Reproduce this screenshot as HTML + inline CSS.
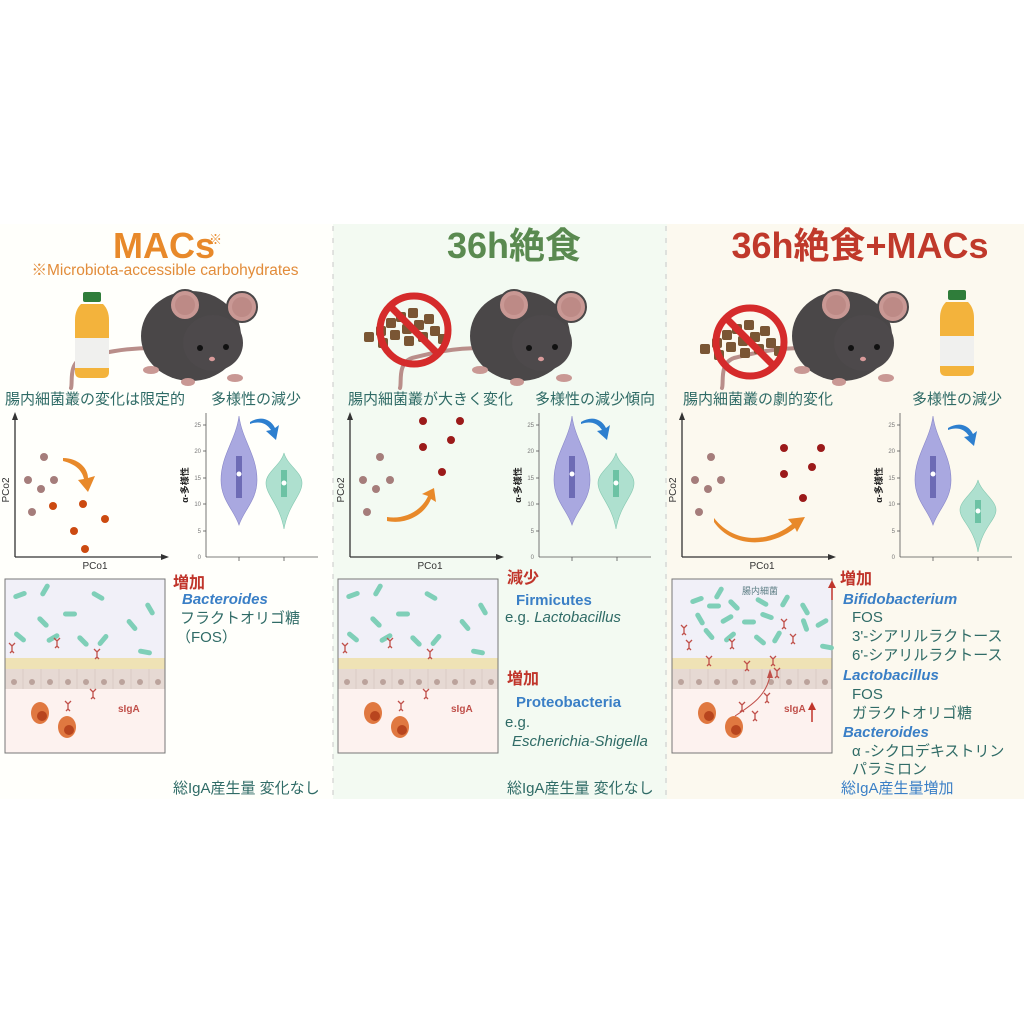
<!DOCTYPE html>
<html><head><meta charset="utf-8"><style>
html,body{margin:0;padding:0;background:#fff;}
svg{display:block}
text{font-family:"Liberation Sans","Noto Sans CJK JP",sans-serif;}
.jp{fill:#2f6b66;font-size:15px;}
.bl{fill:#3a7fc6;font-weight:bold;font-size:15px;}
.rd{fill:#c0352b;font-weight:bold;font-size:16px;}
.tk{fill:#777;font-size:6px;}
</style></head><body>
<svg width="1024" height="1024" viewBox="0 0 1024 1024" xmlns="http://www.w3.org/2000/svg">
<defs>
<g id="mouse">
  <path d="M-60,10 C-90,10 -110,15 -130,20 C-145,25 -140,45 -142,50" fill="none" stroke="#b98e8a" stroke-width="4" stroke-linecap="round"/>
  <ellipse cx="-22" cy="-2" rx="50" ry="45" fill="#4a4748"/>
  <circle cx="-28" cy="-33" r="15" fill="#c99894" stroke="#4a4748" stroke-width="2"/><circle cx="-28" cy="-33" r="10" fill="#bd8a86"/>
  <circle cx="29" cy="-31" r="15" fill="#c99894" stroke="#4a4748" stroke-width="2"/><circle cx="29" cy="-31" r="10" fill="#bd8a86"/>
  <ellipse cx="0" cy="5" rx="30" ry="28" fill="#4d494b"/>
  <circle cx="-13" cy="10" r="3" fill="#111"/><circle cx="13" cy="9" r="3" fill="#111"/>
  <ellipse cx="-1" cy="21" rx="3" ry="2.2" fill="#d99a9a"/>
  <ellipse cx="-62" cy="32" rx="8" ry="4" fill="#c99894"/>
  <ellipse cx="-25" cy="44" rx="7" ry="4" fill="#c99894"/>
  <ellipse cx="22" cy="40" rx="8" ry="4" fill="#c99894"/>
</g>
<g id="bottle">
  <rect x="8" y="0" width="18" height="10" rx="2" fill="#2f7d3a"/>
  <path d="M6,12 h22 q6,6 6,16 v52 q0,6 -6,6 h-22 q-6,0 -6,-6 v-52 q0,-10 6,-16z" fill="#f3b33c"/>
  <rect x="0" y="46" width="34" height="30" fill="#f0f0ee"/>
</g>
<g id="nofood">
  <g fill="#7a5634">
    <rect x="-50" y="2" width="10" height="10" rx="2"/><rect x="-38" y="-4" width="10" height="10" rx="2"/><rect x="-28" y="-12" width="10" height="10" rx="2"/><rect x="-18" y="-18" width="10" height="10" rx="2"/><rect x="-6" y="-22" width="10" height="10" rx="2"/><rect x="-24" y="0" width="10" height="10" rx="2"/><rect x="-12" y="-6" width="10" height="10" rx="2"/><rect x="0" y="-10" width="10" height="10" rx="2"/><rect x="10" y="-16" width="10" height="10" rx="2"/><rect x="-10" y="6" width="10" height="10" rx="2"/><rect x="4" y="2" width="10" height="10" rx="2"/><rect x="16" y="-4" width="10" height="10" rx="2"/><rect x="24" y="4" width="10" height="10" rx="2"/><rect x="-36" y="8" width="10" height="10" rx="2"/>
  </g>
  <circle cx="0" cy="0" r="34" fill="none" stroke="#d52b2b" stroke-width="7"/>
  <line x1="-24" y1="-24" x2="24" y2="24" stroke="#d52b2b" stroke-width="7"/>
</g>
<g id="axes">
  <line x1="0" y1="557" x2="0" y2="418" stroke="#333" stroke-width="1.3"/>
  <path d="M-3,420 L0,412 L3,420z" fill="#333"/>
  <line x1="0" y1="557" x2="148" y2="557" stroke="#333" stroke-width="1.3"/>
  <path d="M146,554 L154,557 L146,560z" fill="#333"/>
  <text x="80" y="569" font-size="10" fill="#333" text-anchor="middle">PCo1</text>
  <text transform="translate(-6,490) rotate(-90)" font-size="10" fill="#333" text-anchor="middle">PCo2</text>
</g>
<g id="vaxis">
  <line x1="0" y1="413" x2="0" y2="557" stroke="#555" stroke-width="0.8"/>
  <line x1="0" y1="557" x2="112" y2="557" stroke="#555" stroke-width="0.8"/>
  <g stroke="#555" stroke-width="0.8"><line x1="-3" y1="425" x2="0" y2="425"/><line x1="-3" y1="451" x2="0" y2="451"/><line x1="-3" y1="478" x2="0" y2="478"/><line x1="-3" y1="504" x2="0" y2="504"/><line x1="-3" y1="531" x2="0" y2="531"/><line x1="33" y1="557" x2="33" y2="561"/><line x1="78" y1="557" x2="78" y2="561"/></g>
  <text class="tk" x="-5" y="427" text-anchor="end">25</text><text class="tk" x="-5" y="453" text-anchor="end">20</text><text class="tk" x="-5" y="480" text-anchor="end">15</text><text class="tk" x="-5" y="506" text-anchor="end">10</text><text class="tk" x="-5" y="533" text-anchor="end">5</text><text class="tk" x="-5" y="559" text-anchor="end">0</text>
  <text transform="translate(-18,485) rotate(-90)" font-size="9" font-weight="bold" fill="#222" text-anchor="middle">α-多様性</text>
  <g transform="translate(33,0)">
    <path d="M0,416 C3,440 18,455 18,480 C18,500 5,510 0,525 C-5,510 -18,500 -18,480 C-18,455 -3,440 0,416Z" fill="#a9a8e0" stroke="#8886c8" stroke-width="0.6"/>
    <rect x="-3" y="456" width="6" height="42" fill="#6d6bb5"/>
    <circle cx="0" cy="474" r="2.5" fill="#fff"/>
  </g>
</g>
<g id="gut">
  <rect x="0" y="0" width="160" height="174" fill="#f1f0f8"/>
  <rect x="0" y="110" width="160" height="64" fill="#fdf2ef"/>
  <rect x="0" y="79" width="160" height="11" fill="#efe2b5"/>
  <rect x="0" y="90" width="160" height="20" fill="#e6d9d3"/>
  <g stroke="#d2c3bd" stroke-width="0.6">
    <line x1="18" y1="90" x2="18" y2="110"/><line x1="36" y1="90" x2="36" y2="110"/><line x1="54" y1="90" x2="54" y2="110"/><line x1="72" y1="90" x2="72" y2="110"/><line x1="90" y1="90" x2="90" y2="110"/><line x1="108" y1="90" x2="108" y2="110"/><line x1="126" y1="90" x2="126" y2="110"/><line x1="144" y1="90" x2="144" y2="110"/>
  </g>
  <g fill="#bba39c"><circle cx="9" cy="103" r="3"/><circle cx="27" cy="103" r="3"/><circle cx="45" cy="103" r="3"/><circle cx="63" cy="103" r="3"/><circle cx="81" cy="103" r="3"/><circle cx="99" cy="103" r="3"/><circle cx="117" cy="103" r="3"/><circle cx="135" cy="103" r="3"/><circle cx="153" cy="103" r="3"/></g>
  <rect x="0" y="0" width="160" height="174" fill="none" stroke="#777" stroke-width="1"/>
  <g fill="#e07840"><ellipse cx="35" cy="134" rx="9" ry="11"/><ellipse cx="62" cy="148" rx="9" ry="11"/></g>
  <g fill="#b8451e"><circle cx="37" cy="137" r="5"/><circle cx="64" cy="151" r="5"/></g>
</g>
<rect id="bac" x="-7" y="-2.5" width="14" height="5" rx="2.5" fill="#7fcfb8"/>
<path id="iga" d="M0,4 L0,-1 M0,-1 L-3,-4 M0,-1 L3,-4 M0,4 L-2,6 M0,4 L2,6" stroke="#c0504a" stroke-width="1.3" fill="none"/>
</defs>

<rect x="0" y="224" width="333" height="575" fill="#fffffb"/>
<rect x="333" y="224" width="334" height="575" fill="#f3faf2"/>
<rect x="667" y="224" width="357" height="575" fill="#fcf9ef"/>
<line x1="333" y1="226" x2="333" y2="799" stroke="#c8c8c8" stroke-dasharray="5,7"/>
<line x1="666" y1="226" x2="666" y2="799" stroke="#c8c8c8" stroke-dasharray="5,7"/>

<!-- PANEL 1 -->
<text x="164" y="258" text-anchor="middle" font-size="36" font-weight="bold" fill="#e8892a">MACs</text>
<text x="209" y="244" font-size="13" fill="#e8892a">※</text>
<text x="165" y="275" text-anchor="middle" font-size="15.5" fill="#e28c3a">※Microbiota-accessible carbohydrates</text>
<use href="#mouse" transform="translate(213,338)"/>
<use href="#bottle" transform="translate(75,292)"/>
<text class="jp" x="5" y="404">腸内細菌叢の変化は限定的</text>
<text class="jp" x="211" y="404">多様性の減少</text>
<use href="#axes" transform="translate(15,0)"/>
<g fill="#a57d7b"><circle cx="44" cy="457" r="4"/><circle cx="28" cy="480" r="4"/><circle cx="54" cy="480" r="4"/><circle cx="41" cy="489" r="4"/><circle cx="32" cy="512" r="4"/></g>
<g fill="#cc4a10"><circle cx="53" cy="506" r="4"/><circle cx="83" cy="504" r="4"/><circle cx="105" cy="519" r="4"/><circle cx="74" cy="531" r="4"/><circle cx="85" cy="549" r="4"/></g>
<path d="M63,458 C78,458 88,468 88,478 L95,476 L88,492 L78,480 L84,479 C82,470 75,464 63,461Z" fill="#e8892a"/>
<use href="#vaxis" transform="translate(206,0)"/>
<g transform="translate(284,0)">
  <path d="M0,453 C3,465 18,472 18,483 C18,495 4,505 0,529 C-4,505 -18,495 -18,483 C-18,472 -3,465 0,453Z" fill="#aee0cf" stroke="#84c8b0" stroke-width="0.6"/>
  <rect x="-3" y="470" width="6" height="27" fill="#6cc2a4"/><circle cx="0" cy="483" r="2.5" fill="#fff"/>
</g>
<path d="M250,422 C260,416 270,418 275,428 L279,425 L276,440 L266,431 L271,430 C266,422 258,421 250,424Z" fill="#2d7fcf"/>
<use href="#gut" transform="translate(5,579)"/>
<g>
<use href="#bac" transform="translate(20,595) rotate(-20)"/><use href="#bac" transform="translate(45,590) rotate(-60)"/><use href="#bac" transform="translate(98,596) rotate(30)"/><use href="#bac" transform="translate(70,614)"/><use href="#bac" transform="translate(43,622) rotate(45)"/><use href="#bac" transform="translate(150,609) rotate(60)"/><use href="#bac" transform="translate(132,625) rotate(50)"/><use href="#bac" transform="translate(20,637) rotate(40)"/><use href="#bac" transform="translate(53,638) rotate(-30)"/><use href="#bac" transform="translate(83,641) rotate(45)"/><use href="#bac" transform="translate(103,640) rotate(-50)"/><use href="#bac" transform="translate(145,652) rotate(10)"/>
<use href="#iga" transform="translate(12,647)"/><use href="#iga" transform="translate(57,642)"/><use href="#iga" transform="translate(97,653)"/><use href="#iga" transform="translate(93,693)"/><use href="#iga" transform="translate(68,705)"/>
</g>
<text x="118" y="712" font-size="10" font-weight="bold" fill="#c0504a">sIgA</text>
<text class="rd" x="173" y="588">増加</text>
<text class="bl" x="182" y="604" font-style="italic">Bacteroides</text>
<text class="jp" x="180" y="623">フラクトオリゴ糖</text>
<text class="jp" x="176" y="642">（FOS）</text>
<text class="jp" x="173" y="793">総IgA産生量 変化なし</text>

<!-- PANEL 2 -->
<text x="514" y="258" text-anchor="middle" font-size="36" font-weight="bold" fill="#5a8a50">36h絶食</text>
<use href="#mouse" transform="translate(542,338)"/>
<use href="#nofood" transform="translate(414,330)"/>
<text class="jp" x="348" y="404">腸内細菌叢が大きく変化</text>
<text class="jp" x="535" y="404">多様性の減少傾向</text>
<use href="#axes" transform="translate(350,0)"/>
<g fill="#a57d7b"><circle cx="380" cy="457" r="4"/><circle cx="363" cy="480" r="4"/><circle cx="390" cy="480" r="4"/><circle cx="376" cy="489" r="4"/><circle cx="367" cy="512" r="4"/></g>
<g fill="#9b1a1a"><circle cx="423" cy="421" r="4"/><circle cx="460" cy="421" r="4"/><circle cx="423" cy="447" r="4"/><circle cx="451" cy="440" r="4"/><circle cx="442" cy="472" r="4"/></g>
<path d="M387,517 C405,520 422,510 428,496 L422,494 L434,488 L436,502 L431,499 C425,514 407,525 387,521Z" fill="#e8892a"/>
<use href="#vaxis" transform="translate(539,0)"/>
<g transform="translate(616,0)">
  <path d="M0,453 C3,465 18,472 18,483 C18,495 4,505 0,529 C-4,505 -18,495 -18,483 C-18,472 -3,465 0,453Z" fill="#aee0cf" stroke="#84c8b0" stroke-width="0.6"/>
  <rect x="-3" y="470" width="6" height="27" fill="#6cc2a4"/><circle cx="0" cy="483" r="2.5" fill="#fff"/>
</g>
<path d="M581,422 C591,416 601,418 606,428 L610,425 L607,440 L597,431 L602,430 C597,422 589,421 581,424Z" fill="#2d7fcf"/>
<use href="#gut" transform="translate(338,579)"/>
<g transform="translate(333,0)">
<use href="#bac" transform="translate(20,595) rotate(-20)"/><use href="#bac" transform="translate(45,590) rotate(-60)"/><use href="#bac" transform="translate(98,596) rotate(30)"/><use href="#bac" transform="translate(70,614)"/><use href="#bac" transform="translate(43,622) rotate(45)"/><use href="#bac" transform="translate(150,609) rotate(60)"/><use href="#bac" transform="translate(132,625) rotate(50)"/><use href="#bac" transform="translate(20,637) rotate(40)"/><use href="#bac" transform="translate(53,638) rotate(-30)"/><use href="#bac" transform="translate(83,641) rotate(45)"/><use href="#bac" transform="translate(103,640) rotate(-50)"/><use href="#bac" transform="translate(145,652) rotate(10)"/>
<use href="#iga" transform="translate(12,647)"/><use href="#iga" transform="translate(57,642)"/><use href="#iga" transform="translate(97,653)"/><use href="#iga" transform="translate(93,693)"/><use href="#iga" transform="translate(68,705)"/>
<text x="118" y="712" font-size="10" font-weight="bold" fill="#c0504a">sIgA</text>
</g>
<text class="rd" x="507" y="583">減少</text>
<text class="bl" x="516" y="605" font-size="16">Firmicutes</text>
<text class="jp" x="505" y="622" font-size="13">e.g. <tspan font-style="italic">Lactobacillus</tspan></text>
<text class="rd" x="507" y="684">増加</text>
<text class="bl" x="516" y="707" font-size="16">Proteobacteria</text>
<text class="jp" x="505" y="727" font-size="13">e.g.</text>
<text class="jp" x="512" y="746" font-size="13" font-style="italic">Escherichia-Shigella</text>
<text class="jp" x="507" y="793">総IgA産生量 変化なし</text>

<!-- PANEL 3 -->
<text x="860" y="258" text-anchor="middle" font-size="36" font-weight="bold" fill="#c0392b">36h絶食+MACs</text>
<use href="#mouse" transform="translate(864,338)"/>
<use href="#nofood" transform="translate(750,342)"/>
<use href="#bottle" transform="translate(940,290)"/>
<text class="jp" x="683" y="404">腸内細菌叢の劇的変化</text>
<text class="jp" x="912" y="404">多様性の減少</text>
<use href="#axes" transform="translate(682,0)"/>
<g fill="#a57d7b"><circle cx="711" cy="457" r="4"/><circle cx="695" cy="480" r="4"/><circle cx="721" cy="480" r="4"/><circle cx="708" cy="489" r="4"/><circle cx="699" cy="512" r="4"/></g>
<g fill="#9b1a1a"><circle cx="784" cy="448" r="4"/><circle cx="821" cy="448" r="4"/><circle cx="812" cy="467" r="4"/><circle cx="784" cy="474" r="4"/><circle cx="803" cy="498" r="4"/></g>
<path d="M714,518 C735,545 770,542 792,524 L788,519 L805,517 L797,532 L795,528 C770,548 732,548 714,522Z" fill="#e8892a"/>
<use href="#vaxis" transform="translate(900,0)"/>
<g transform="translate(978,0)">
  <path d="M0,480 C3,492 18,500 18,510 C18,520 4,528 0,552 C-4,528 -18,520 -18,510 C-18,500 -3,492 0,480Z" fill="#aee0cf" stroke="#84c8b0" stroke-width="0.6"/>
  <rect x="-3" y="500" width="6" height="23" fill="#6cc2a4"/><circle cx="0" cy="511" r="2.5" fill="#fff"/>
</g>
<path d="M948,428 C958,422 968,424 973,434 L977,431 L974,446 L964,437 L969,436 C964,428 956,427 948,430Z" fill="#2d7fcf"/>
<use href="#gut" transform="translate(672,579)"/>
<g transform="translate(667,0)">
<use href="#bac" transform="translate(30,600) rotate(-20)"/><use href="#bac" transform="translate(52,593) rotate(-60)"/><use href="#bac" transform="translate(47,606)"/><use href="#bac" transform="translate(67,605) rotate(45)"/><use href="#bac" transform="translate(95,602) rotate(30)"/><use href="#bac" transform="translate(118,601) rotate(-60)"/><use href="#bac" transform="translate(138,609) rotate(60)"/><use href="#bac" transform="translate(33,619) rotate(60)"/><use href="#bac" transform="translate(60,619) rotate(-30)"/><use href="#bac" transform="translate(82,622)"/><use href="#bac" transform="translate(100,616) rotate(20)"/><use href="#bac" transform="translate(138,625) rotate(70)"/><use href="#bac" transform="translate(155,623) rotate(-30)"/><use href="#bac" transform="translate(42,634) rotate(50)"/><use href="#bac" transform="translate(63,637) rotate(-40)"/><use href="#bac" transform="translate(93,640) rotate(40)"/><use href="#bac" transform="translate(110,637) rotate(-60)"/><use href="#bac" transform="translate(160,647) rotate(10)"/>
<use href="#iga" transform="translate(17,629)"/><use href="#iga" transform="translate(22,644)"/><use href="#iga" transform="translate(42,660)"/><use href="#iga" transform="translate(65,643)"/><use href="#iga" transform="translate(80,665)"/><use href="#iga" transform="translate(117,623)"/><use href="#iga" transform="translate(126,638)"/><use href="#iga" transform="translate(106,660)"/><use href="#iga" transform="translate(110,672)"/><use href="#iga" transform="translate(100,697)"/><use href="#iga" transform="translate(75,706)"/><use href="#iga" transform="translate(88,715)"/>
<path d="M68,716 C85,705 100,695 103,675" fill="none" stroke="#c0504a" stroke-width="1"/>
<path d="M100,678 L103,669 L106,678z" fill="#c0504a"/>
<text x="117" y="712" font-size="10" font-weight="bold" fill="#c0504a">sIgA</text>
<text x="75" y="594" font-size="9" fill="#5f7f86">腸内細菌</text>
<line x1="145" y1="722" x2="145" y2="708" stroke="#c0352b" stroke-width="1.5"/><path d="M141,710 L145,702 L149,710z" fill="#c0352b"/>
<line x1="165" y1="600" x2="165" y2="586" stroke="#c0352b" stroke-width="1.5"/><path d="M161,588 L165,580 L169,588z" fill="#c0352b"/>
</g>
<text class="rd" x="840" y="584">増加</text>
<text class="bl" x="843" y="604" font-style="italic">Bifidobacterium</text>
<text class="jp" x="852" y="622" font-size="14">FOS</text>
<text class="jp" x="852" y="641" font-size="14">3'-シアリルラクトース</text>
<text class="jp" x="852" y="660" font-size="14">6'-シアリルラクトース</text>
<text class="bl" x="843" y="680" font-style="italic">Lactobacillus</text>
<text class="jp" x="852" y="699" font-size="14">FOS</text>
<text class="jp" x="852" y="718" font-size="14">ガラクトオリゴ糖</text>
<text class="bl" x="843" y="737" font-style="italic">Bacteroides</text>
<text class="jp" x="852" y="756" font-size="14">α -シクロデキストリン</text>
<text class="jp" x="852" y="774" font-size="14">パラミロン</text>
<text x="841" y="793" font-size="15" fill="#3a7fc6">総IgA産生量増加</text>
</svg>
</body></html>
